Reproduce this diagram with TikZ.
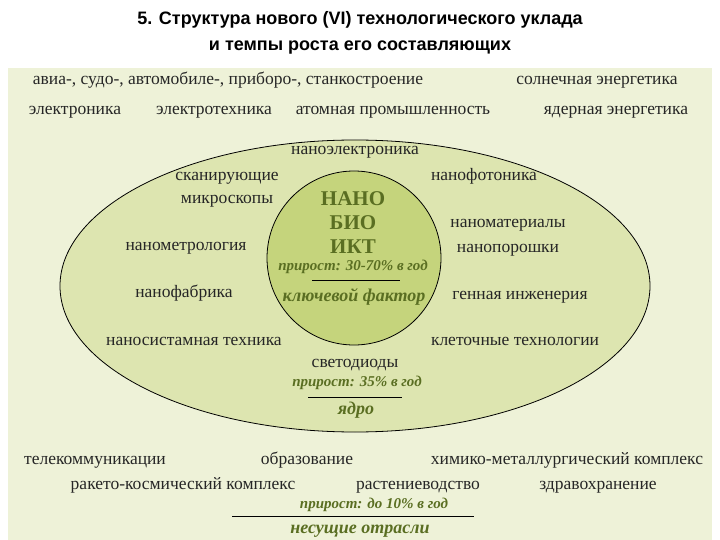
\documentclass[tikz,border=0pt]{standalone}
\usepackage{fontspec}
\setmainfont{Liberation Serif}
\newfontfamily\titlefont{Liberation Sans}
\definecolor{bgc}{HTML}{EEF2D8}
\definecolor{elc}{HTML}{DDE5B0}
\definecolor{cic}{HTML}{C5D47C}
\definecolor{dg}{HTML}{5A6E22}
\begin{document}
\begin{tikzpicture}[x=1pt,y=-1pt,
  t/.style={font=\fontsize{17.5}{21}\selectfont, text=black!85, inner sep=0pt, text height=9pt, text depth=3pt},
  it/.style={font=\fontsize{15}{17}\selectfont\itshape\bfseries, text=dg, inner sep=0pt, text height=8pt, text depth=3pt},
  lab/.style={font=\fontsize{18}{20}\selectfont\itshape\bfseries, text=dg, inner sep=0pt, text height=10pt, text depth=4pt}]
\useasboundingbox (0,0) rectangle (720,540);
\fill[white] (0,0) rectangle (720,540);
\node[font=\titlefont\bfseries\fontsize{18}{26}\selectfont, align=center] (title) at (360,33) {5. Структура нового (VI) технологического уклада\\и темпы роста его составляющих};
\fill[bgc] (8,68) rectangle (712,540);
\fill[elc, draw=black, line width=0.8pt] (355,286) ellipse [x radius=295, y radius=146];
\fill[cic, draw=black, line width=0.8pt] (354,258) circle [radius=87];
% outer
\node[t] (a1) at (228,82) {авиа-, судо-, автомобиле-, приборо-, станкостроение};
\node[t] (a2) at (597,82) {солнечная энергетика};
\node[t] (a3) at (75,112) {электроника};
\node[t] (a4) at (214,112) {электротехника};
\node[t] (a5) at (393,112) {атомная промышленность};
\node[t] (a6) at (616,112) {ядерная энергетика};
% ellipse
\node[t] (b1) at (355,152) {наноэлектроника};
\node[t] (b2a) at (227,178) {сканирующие};
\node[t] (b2b) at (227,201) {микроскопы};
\node[t] (b3) at (484,178) {нанофотоника};
\node[t] (b4a) at (508,225) {наноматериалы};
\node[t] (b4b) at (508,249) {нанопорошки};
\node[t] (b5) at (186,247) {нанометрология};
\node[t] (b6) at (184,294) {нанофабрика};
\node[t] (b7) at (520,296) {генная инженерия};
\node[t] (b8) at (194,342) {наносистамная техника};
\node[t] (b9) at (515,342) {клеточные технологии};
\node[t] (b10) at (355,364) {светодиоды};
\node[it] (b11) at (357,384) {прирост: 35\% в год};
\draw[line width=0.8pt] (308,397) -- (402,397);
\node[lab] (b12) at (356,411) {ядро};
% circle
\node[font=\fontsize{21}{24}\selectfont\bfseries, text=dg, align=center, inner sep=0pt] (c1) at (353,223) {НАНО\\БИО\\ИКТ};
\node[it] (c2) at (353,268) {прирост: 30-70\% в год};
\draw[line width=0.8pt] (312,280) -- (400,280);
\node[lab] (c3) at (354,298) {ключевой фактор};
% bottom
\node[t] (d1) at (95,461) {телекоммуникации};
\node[t] (d2) at (307,461) {образование};
\node[t] (d3) at (567,461) {химико-металлургический комплекс};
\node[t] (d4) at (183,486) {ракето-космический комплекс};
\node[t] (d5) at (418,486) {растениеводство};
\node[t] (d6) at (598,486) {здравохранение};
\node[it] (d7) at (374,506) {прирост: до 10\% в год};
\draw[line width=0.8pt] (232,516) -- (474,516);
\node[lab] (d8) at (360,530) {несущие отрасли};
\end{tikzpicture}
\end{document}
